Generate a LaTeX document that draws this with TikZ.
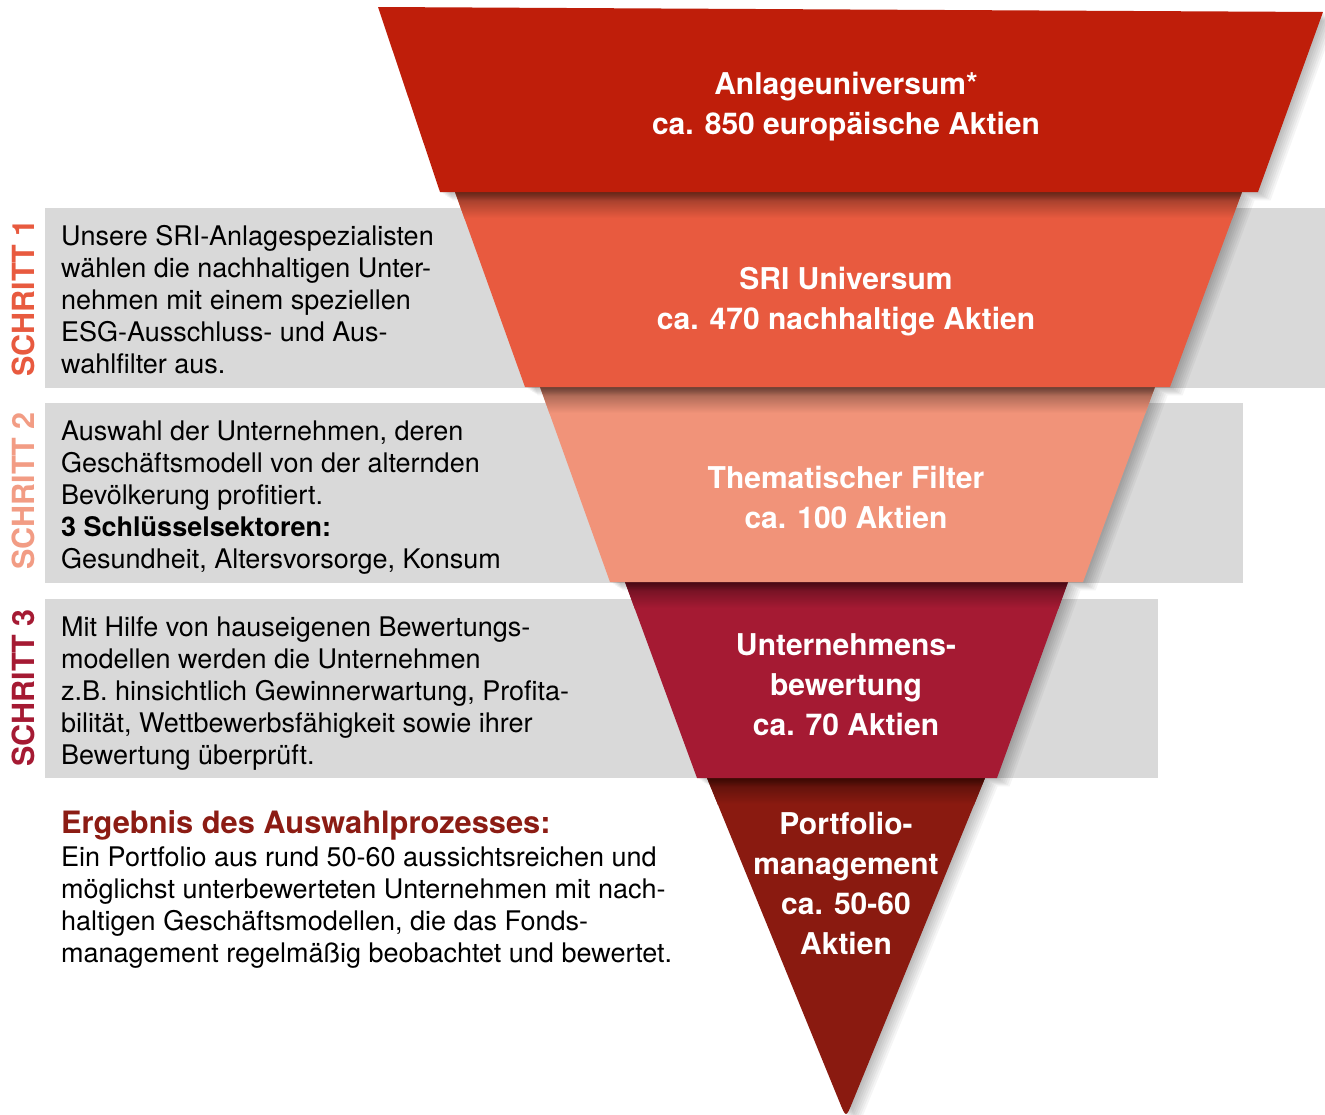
\documentclass[tikz,border=0pt]{standalone}
\usepackage{fontspec}
\setmainfont{TeX Gyre Heros}
\definecolor{colA}{HTML}{BF1E0A}
\definecolor{colB}{HTML}{E85A3F}
\definecolor{colC}{HTML}{F19379}
\definecolor{colD}{HTML}{A51A33}
\definecolor{colE}{HTML}{8A1A10}
\definecolor{bandgray}{HTML}{D9D9D9}
\definecolor{titlered}{HTML}{8C1C14}
\definecolor{stepone}{HTML}{E85A3F}
\definecolor{steptwo}{HTML}{F29C84}
\definecolor{stepthree}{HTML}{A51A33}
\newcommand\shapeA[1]{#1 (378,7) -- (1323,12) -- (1258,192) -- (440,192) -- cycle;}
\newcommand\shapeB[1]{#1 (455,192) -- (1242,192) -- (1170,387) -- (525,387) -- cycle;}
\newcommand\shapeC[1]{#1 (540,387) -- (1155,387) -- (1083,582) -- (610,582) -- cycle;}
\newcommand\shapeD[1]{#1 (625,582) -- (1068,582) -- (997,778) -- (697,778) -- cycle;}
\newcommand\shapeE[1]{#1 (707,778) -- (985,778) -- (852.5,1102) .. controls (846,1118) .. (839.5,1102) -- cycle;}
\newcommand\softshadow[1]{\foreach \k in {1,...,7}{#1{\fill[black,opacity=0.04,shift={(\k*1.8,\k*1.2)}]}}}
\newcommand\topshade[3]{\begin{scope}#1{\clip}\shade[top color=#2!60!black,bottom color=#2] (300,#3) rectangle (1325,#3+26);\end{scope}}
\begin{document}
\begin{tikzpicture}[x=1pt,y=-1pt,
  bodytext/.style={anchor=north west,inner sep=0pt,align=left,font=\fontsize{27}{32}\selectfont},
  segtext/.style={inner sep=0pt,align=center,text=white,font=\fontsize{30}{40}\selectfont\bfseries},
  steplabel/.style={rotate=90,inner sep=0pt,font=\fontsize{30.5}{36}\selectfont\bfseries},
  band/.style={fill=bandgray}]
\path[use as bounding box,fill=white] (0,0) rectangle (1325,1114);
% grey bands
\fill[band] (45,208) rectangle (1325,388);
\fill[band] (45,403) rectangle (1243,583);
\fill[band] (45,599) rectangle (1158,778);
% funnel, bottom to top
\softshadow{\shapeE}
\shapeE{\fill[colE]}
\topshade{\shapeE}{colE}{778}
\softshadow{\shapeD}
\shapeD{\fill[colD]}
\topshade{\shapeD}{colD}{582}
\softshadow{\shapeC}
\shapeC{\fill[colC]}
\topshade{\shapeC}{colC}{387}
\softshadow{\shapeB}
\shapeB{\fill[colB]}
\topshade{\shapeB}{colB}{192}
\softshadow{\shapeA}
\shapeA{\fill[colA]}
% funnel texts
\node[segtext] (ga) at (846,107) {Anlageuniversum*\\ca. 850 europäische Aktien};
\node[segtext] (gb) at (846,302) {SRI Universum\\ca. 470 nachhaltige Aktien};
\node[segtext] (gc) at (846,497) {Thematischer Filter\\ca. 100 Aktien};
\node[segtext] (gd) at (846,685) {Unternehmens-\\bewertung\\ca. 70 Aktien};
\node[segtext] (ge) at (846,883) {Portfolio-\\management\\ca. 50-60\\Aktien};
% step labels
\node[steplabel,text=stepone] (s1) at (23,298) {SCHRITT 1};
\node[steplabel,text=steptwo] (s2) at (23,491) {SCHRITT 2};
\node[steplabel,text=stepthree] (s3) at (23,688) {SCHRITT 3};
% step texts
\node[bodytext] (t1) at (61,225.5) {Unsere SRI-Anlagespezialisten\\wählen die nachhaltigen Unter-\\nehmen mit einem speziellen\\ESG-Ausschluss- und Aus-\\wahlfilter aus.};
\node[bodytext] (t2) at (61,420.5) {Auswahl der Unternehmen, deren\\Geschäftsmodell von der alternden\\Bevölkerung profitiert.\\\textbf{3 Schlüsselsektoren:}\\Gesundheit, Altersvorsorge, Konsum};
\node[bodytext] (t3) at (61,616.5) {Mit Hilfe von hauseigenen Bewertungs-\\modellen werden die Unternehmen\\z.B. hinsichtlich Gewinnerwartung, Profita-\\bilität, Wettbewerbsfähigkeit sowie ihrer\\Bewertung überprüft.};
% result
\node[anchor=north west,inner sep=0pt,text=titlered,font=\fontsize{30.8}{36}\selectfont\bfseries] (rt) at (61,810) {Ergebnis des Auswahlprozesses:};
\node[bodytext] (rb) at (61,846.5) {Ein Portfolio aus rund 50-60 aussichtsreichen und\\möglichst unterbewerteten Unternehmen mit nach-\\haltigen Geschäftsmodellen, die das Fonds-\\management regelmäßig beobachtet und bewertet.};
\end{tikzpicture}
\end{document}
